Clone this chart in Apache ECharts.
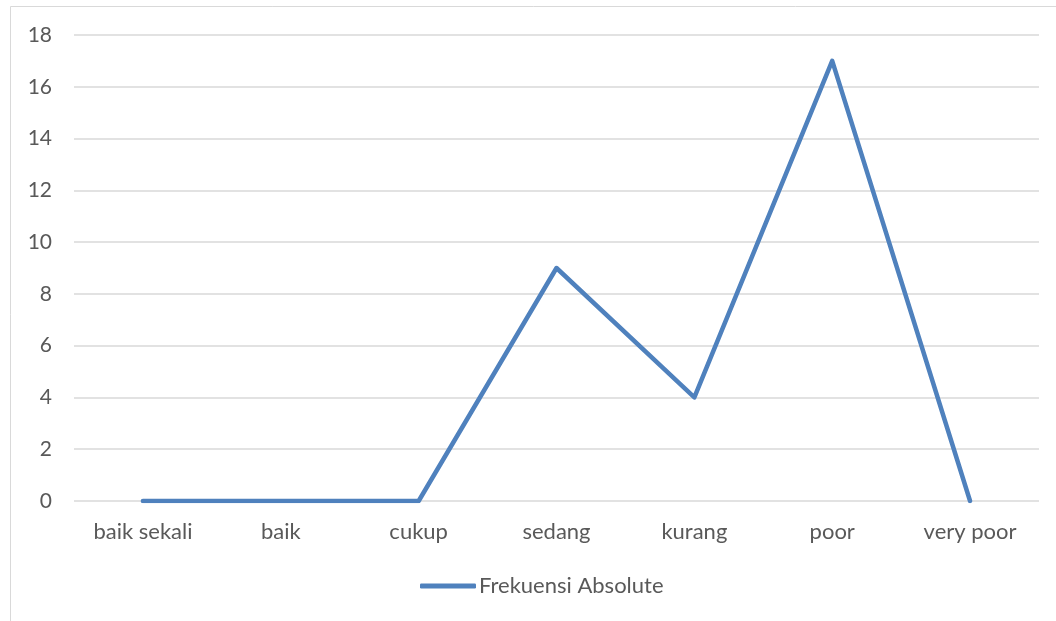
<!DOCTYPE html>
<html><head><meta charset="utf-8">
<script src="https://cdn.jsdelivr.net/npm/echarts@6/dist/echarts.min.js"></script>
<style>html,body{margin:0;padding:0;background:#fff}#c{width:1056px;height:621px}</style>
</head><body><div id="c"></div>
<script>
const categories = ['baik sekali','baik','cukup','sedang','kurang','poor','very poor'];
const frekuensi = [0,0,0,9,4,17,0];
const seriesName = 'Frekuensi Absolute';
const chart = echarts.init(document.getElementById('c'));
const font = 'Lato, "Open Sans", sans-serif';
chart.setOption({
  animation:false,
  graphic:[{type:'rect',shape:{x:10.5,y:6.5,width:1060,height:640},style:{fill:'none',stroke:'#d9d9d9',lineWidth:1}}],
  grid:{left:74,right:17,top:35,bottom:120},
  xAxis:{type:'category',data:categories,boundaryGap:true,
    axisLine:{show:false},axisTick:{show:false},
    axisLabel:{color:'#595959',fontSize:22,fontFamily:font,margin:20}},
  yAxis:{type:'value',min:0,max:18,interval:2,
    axisLine:{show:false},axisTick:{show:false},
    splitLine:{lineStyle:{color:'#d9d9d9',width:1.5}},
    axisLabel:{color:'#595959',fontSize:21,fontFamily:font,margin:22}},
  legend:{bottom:19,left:415,padding:5,icon:'roundRect',itemWidth:56,itemHeight:5,itemGap:10,
    textStyle:{color:'#595959',fontSize:22,fontFamily:font,padding:[0,0,0,-2]},
    data:[{name:seriesName,itemStyle:{color:'#4f81bd'}}]},
  series:[{name:seriesName,type:'line',data:frekuensi,symbol:'none',
    lineStyle:{color:'#4f81bd',width:4.5,cap:'round',join:'round'},itemStyle:{color:'#4f81bd'}}]
});
</script></body></html>
